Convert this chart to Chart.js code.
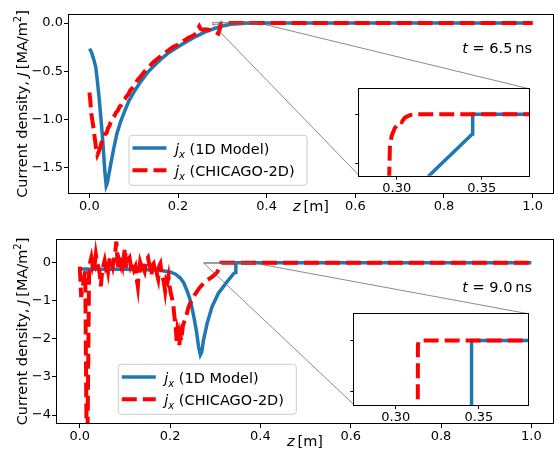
<!DOCTYPE html>
<html>
<head>
<meta charset="utf-8">
<script src="https://cdn.jsdelivr.net/npm/chart.js@4.4.1/dist/chart.umd.min.js"></script>
<style>
  body { margin: 0; background: #fff; width: 554px; height: 449px; position: relative; overflow: hidden; }
  canvas { position: absolute; }
</style>
</head>
<body>
<canvas id="mainTop" width="554" height="222" style="left:0;top:0"></canvas>
<canvas id="mainBottom" width="554" height="227" style="left:0;top:222px"></canvas>
<canvas id="insetTop" width="200" height="120" style="left:340px;top:80px"></canvas>
<canvas id="insetBottom" width="200" height="125" style="left:340px;top:305px"></canvas>
<script>
// ---- data (z [m], J [MA/m^2]) ----
const zTicks = [0, 0.2, 0.4, 0.6, 0.8, 1.0];
const topYTicks = [0, -0.5, -1.0, -1.5];
const bottomYTicks = [0, -1, -2, -3, -4];
const insetZTicks = [0.30, 0.35];
const insetYTicks = [0, -0.01];
const seriesNames = ['1D Model', 'CHICAGO-2D'];
const timeLabels = ['6.5', '9.0'];

// t = 6.5 ns
const model65 = [[0,-0.266],[0.003,-0.285],[0.006,-0.32],[0.010,-0.38],[0.0144,-0.46],[0.018,-0.60],[0.022,-0.78],[0.0256,-0.97],[0.029,-1.15],[0.0316,-1.32],[0.035,-1.55],[0.038,-1.69],[0.0406,-1.66],[0.044,-1.57],[0.048,-1.47],[0.055,-1.30],[0.062,-1.15],[0.070,-1.03],[0.080,-0.91],[0.090,-0.80],[0.100,-0.72],[0.114,-0.62],[0.130,-0.52],[0.1445,-0.45],[0.160,-0.38],[0.180,-0.305],[0.200,-0.245],[0.220,-0.19],[0.240,-0.14],[0.260,-0.095],[0.280,-0.06],[0.300,-0.03],[0.319,-0.0124],[0.3445,-0.004],[0.3447,0],[1.0,0]];
const chicago65 = [[0.000,-0.72],[0.002,-0.80],[0.004,-0.93],[0.008,-1.05],[0.012,-1.19],[0.015,-1.30],[0.018,-1.37],[0.021,-1.34],[0.024,-1.30],[0.027,-1.25],[0.030,-1.21],[0.033,-1.19],[0.036,-1.15],[0.039,-1.14],[0.042,-1.09],[0.045,-1.07],[0.048,-1.03],[0.051,-1.01],[0.054,-0.98],[0.057,-0.96],[0.060,-0.93],[0.064,-0.91],[0.068,-0.87],[0.072,-0.85],[0.076,-0.81],[0.080,-0.79],[0.084,-0.76],[0.088,-0.74],[0.092,-0.70],[0.096,-0.68],[0.100,-0.65],[0.104,-0.63],[0.108,-0.595],[0.114,-0.565],[0.120,-0.53],[0.125,-0.50],[0.130,-0.475],[0.136,-0.45],[0.141,-0.42],[0.146,-0.40],[0.152,-0.375],[0.158,-0.355],[0.164,-0.33],[0.170,-0.31],[0.176,-0.29],[0.182,-0.27],[0.188,-0.25],[0.194,-0.235],[0.200,-0.225],[0.206,-0.205],[0.212,-0.185],[0.218,-0.17],[0.224,-0.15],[0.230,-0.14],[0.236,-0.125],[0.241,-0.11],[0.245,-0.06],[0.248,-0.034],[0.251,-0.06],[0.256,-0.07],[0.262,-0.065],[0.269,-0.07],[0.276,-0.08],[0.284,-0.093],[0.291,-0.11],[0.2945,-0.06],[0.2956,-0.0124],[0.2960,-0.0067],[0.2970,-0.0044],[0.2989,-0.0028],[0.3009,-0.0020],[0.3019,-0.0015],[0.3029,-0.0016],[0.3048,-0.0007],[0.3077,-0.0002],[0.3112,0],[1.0,0]];

// t = 9.0 ns
const model90 = [[0,-0.16],[0.05,-0.17],[0.10,-0.17],[0.15,-0.18],[0.18,-0.20],[0.20,-0.24],[0.212,-0.30],[0.2226,-0.40],[0.230,-0.52],[0.237,-0.72],[0.243,-0.92],[0.248,-1.15],[0.253,-1.45],[0.258,-1.77],[0.263,-2.20],[0.267,-2.42],[0.270,-2.35],[0.274,-2.03],[0.282,-1.59],[0.293,-1.15],[0.307,-0.80],[0.326,-0.50],[0.341,-0.28],[0.3454,-0.25],[0.3456,0],[1.0,0]];
const chicago90 = [[0.000,-0.10],[0.003,-0.90],[0.0075,-0.55],[0.012,-0.22],[0.016,-6.0],[0.0205,-0.28],[0.023,0.02],[0.0255,0.14],[0.028,-0.06],[0.030,0.05],[0.033,-0.04],[0.0355,0.22],[0.038,0.02],[0.041,-0.12],[0.044,-0.28],[0.0465,-0.62],[0.049,-0.30],[0.052,-0.08],[0.055,0.06],[0.0575,-0.12],[0.060,-0.05],[0.0625,-0.22],[0.065,0.04],[0.068,0.16],[0.0705,0.02],[0.073,-0.10],[0.0755,0.08],[0.078,0.22],[0.081,0.56],[0.0835,0.05],[0.0855,-0.16],[0.088,0.04],[0.0905,-0.06],[0.093,0.15],[0.0955,-0.02],[0.098,0.22],[0.100,0.38],[0.1025,-0.14],[0.105,-0.02],[0.1075,0.10],[0.110,0.14],[0.1125,-0.06],[0.115,0.04],[0.1175,-0.05],[0.120,-0.18],[0.123,-0.10],[0.1255,-0.38],[0.1285,-0.62],[0.131,-0.20],[0.1335,0.02],[0.136,-0.08],[0.1385,0.03],[0.141,-0.14],[0.1435,-0.22],[0.146,-0.02],[0.1485,0.10],[0.151,0.14],[0.1535,-0.02],[0.156,-0.12],[0.1585,-0.34],[0.161,-0.06],[0.1635,-0.02],[0.166,-0.18],[0.1685,-0.10],[0.171,-0.30],[0.1735,-0.42],[0.176,-0.08],[0.1785,-0.02],[0.181,-0.26],[0.1835,-0.36],[0.186,-0.50],[0.189,-0.74],[0.1915,-0.46],[0.194,-0.52],[0.1965,-0.36],[0.199,-0.62],[0.2015,-0.80],[0.204,-0.92],[0.2065,-1.05],[0.2085,-1.28],[0.2105,-1.52],[0.2125,-1.70],[0.2145,-2.05],[0.2165,-1.72],[0.2185,-1.80],[0.2205,-2.16],[0.2225,-1.92],[0.2245,-2.05],[0.2265,-1.84],[0.2285,-1.64],[0.2305,-1.58],[0.2335,-1.46],[0.2365,-1.36],[0.2405,-1.18],[0.2445,-1.06],[0.249,-0.97],[0.2535,-0.86],[0.258,-0.78],[0.265,-0.66],[0.274,-0.54],[0.283,-0.45],[0.293,-0.37],[0.300,-0.30],[0.3045,-0.24],[0.3131,-0.03],[0.3133,-0.0008],[0.314,-0.0001],[0.315,0],[1.0,0]];

// ---- style ----
const BLUE = '#1f77b4';
const RED = '#ff0000';
const RM = '14.5px "DejaVu Sans"';
const IT = 'italic 14.5px "DejaVu Sans"';
const SM = '10px "DejaVu Sans"';
const ITS = 'italic 10px "DejaVu Sans"';

const fmt = d => v => v.toFixed(d).replace('-', '\u2212');
const pts = arr => arr.map(p => ({ x: p[0], y: p[1] }));

function datasets(model, chicago) {
  const common = { pointRadius: 0, tension: 0, fill: false, clip: 0 };
  return [
    { ...common, data: pts(chicago), borderColor: RED, borderWidth: 4, borderDash: [15, 6] },
    { ...common, data: pts(model), borderColor: BLUE, borderWidth: 3.5 }
  ];
}

function scale(min, max, tickVals, label, fitKey, fitVal, tickLen) {
  return {
    type: 'linear', min, max,
    afterBuildTicks: s => { s.ticks = tickVals.map(v => ({ value: v })); },
    afterFit: s => { s[fitKey] = fitVal; },
    ticks: { callback: label, font: { family: 'DejaVu Sans', size: 13 }, color: '#000', padding: 1, maxRotation: 0, autoSkip: false },
    grid: { drawOnChartArea: false, drawTicks: true, tickLength: tickLen, color: '#000', lineWidth: 1 },
    border: { display: false }
  };
}

// draw text pieces with mixed fonts on one baseline
function runs(ctx, parts, x, y, align) {
  let w = 0;
  parts.forEach(p => { ctx.font = p[1]; w += ctx.measureText(p[0]).width; });
  let cx = align === 'right' ? x - w : align === 'center' ? x - w / 2 : x;
  parts.forEach(p => {
    ctx.font = p[1];
    ctx.fillText(p[0], cx, y + (p[2] || 0));
    cx += ctx.measureText(p[0]).width;
  });
}

function frame(ctx, a) {
  ctx.strokeStyle = '#000';
  ctx.lineWidth = 1;
  ctx.strokeRect(Math.round(a.left) - 0.5, Math.round(a.top) - 0.5, Math.round(a.right - a.left) + 1, Math.round(a.bottom - a.top) + 1);
}

function drawLegend(ctx, bx, by) {
  const w = 178, h = 50, r = 3;
  ctx.beginPath();
  ctx.moveTo(bx + r, by);
  ctx.arcTo(bx + w, by, bx + w, by + h, r);
  ctx.arcTo(bx + w, by + h, bx, by + h, r);
  ctx.arcTo(bx, by + h, bx, by, r);
  ctx.arcTo(bx, by, bx + w, by, r);
  ctx.closePath();
  ctx.fillStyle = 'rgba(255,255,255,0.8)';
  ctx.fill();
  ctx.strokeStyle = '#cccccc';
  ctx.lineWidth = 1;
  ctx.stroke();
  const rows = [{ c: BLUE, lw: 3.5, dash: [] }, { c: RED, lw: 4, dash: [15, 6] }];
  rows.forEach((row, i) => {
    const ly = by + 12.7 + i * 22.3;
    ctx.beginPath();
    ctx.setLineDash(row.dash);
    ctx.strokeStyle = row.c;
    ctx.lineWidth = row.lw;
    ctx.moveTo(bx + 3.5, ly);
    ctx.lineTo(bx + 37.5, ly);
    ctx.stroke();
    ctx.setLineDash([]);
    ctx.fillStyle = '#000';
    runs(ctx, [['j', IT], ['x', ITS, 3.5], [' (' + seriesNames[i] + ')', RM]], bx + 46, ly + 6, 'left');
  });
}

function decoPlugin(cfg) {
  return {
    id: 'deco',
    afterDatasetsDraw(chart) {
      const ctx = chart.ctx, a = chart.chartArea;
      const xs = chart.scales.x, ys = chart.scales.y;
      const ins = cfg.inset, ia = ins.chartArea;
      const ox = ins.canvas.offsetLeft - chart.canvas.offsetLeft;
      const oy = ins.canvas.offsetTop - chart.canvas.offsetTop;
      ctx.save();
      // zoom marker and connectors
      const rx0 = xs.getPixelForValue(ins.scales.x.min), rx1 = xs.getPixelForValue(ins.scales.x.max);
      const ry0 = ys.getPixelForValue(ins.scales.y.max), ry1 = ys.getPixelForValue(ins.scales.y.min);
      ctx.strokeStyle = 'rgba(110,110,110,0.8)';
      ctx.lineWidth = 1;
      ctx.strokeRect(rx0, ry0, rx1 - rx0, ry1 - ry0);
      ctx.beginPath();
      ctx.moveTo(rx1, ry0); ctx.lineTo(ox + ia.right, oy + ia.top);
      ctx.moveTo(rx0, ry1); ctx.lineTo(ox + ia.left, oy + ia.bottom);
      ctx.stroke();
      frame(ctx, a);
      drawLegend(ctx, cfg.legendX, cfg.legendY);
      ctx.fillStyle = '#000';
      ctx.textBaseline = 'alphabetic';
      runs(ctx, [['t', IT], [' = ' + cfg.time + '\u2009ns', RM]], a.right - 21, cfg.tY, 'right');
      runs(ctx, [['z', IT], ['\u2009[m]', RM]], (a.left + a.right) / 2, cfg.zY, 'center');
      ctx.translate(26.5, (a.top + a.bottom) / 2);
      ctx.rotate(-Math.PI / 2);
      runs(ctx, [['Current density, ', RM], ['J', IT], ['\u2009[MA/m', RM], ['2', SM, -5.5], [']', RM]], 0, 0, 'center');
      ctx.restore();
    }
  };
}

const insetDeco = {
  id: 'insetDeco',
  beforeDraw(chart) {
    const a = chart.chartArea, ctx = chart.ctx;
    ctx.save();
    ctx.fillStyle = '#fff';
    ctx.fillRect(a.left, a.top, a.right - a.left, a.bottom - a.top);
    ctx.restore();
  },
  afterDraw(chart) {
    chart.ctx.save();
    frame(chart.ctx, chart.chartArea);
    chart.ctx.restore();
  }
};

const base = {
  responsive: false, animation: false, devicePixelRatio: 1, events: [],
  plugins: { legend: { display: false }, tooltip: { enabled: false } }
};

function makeInset(id, model, chicago, xr, yr, pad, yWidth, xHeight) {
  return new Chart(document.getElementById(id), {
    type: 'line',
    data: { datasets: datasets(model, chicago) },
    options: {
      ...base,
      layout: { padding: pad },
      scales: {
        x: scale(xr[0], xr[1], insetZTicks, fmt(2), 'height', xHeight, 4),
        y: scale(yr[0], yr[1], insetYTicks, () => '', 'width', yWidth, 4)
      }
    },
    plugins: [insetDeco]
  });
}

function makeMain(id, model, chicago, xr, yr, yTicks, yDigits, pad, yWidth, xHeight, cfg) {
  return new Chart(document.getElementById(id), {
    type: 'line',
    data: { datasets: datasets(model, chicago) },
    options: {
      ...base,
      layout: { padding: pad },
      scales: {
        x: scale(xr[0], xr[1], zTicks, fmt(1), 'height', xHeight, 5),
        y: scale(yr[0], yr[1], yTicks, fmt(yDigits), 'width', yWidth, 5)
      }
    },
    plugins: [decoPlugin(cfg)]
  });
}

const insetTop = makeInset('insetTop', model65, chicago65, [0.278, 0.378], [-0.0124, 0.0051],
  { top: 6, right: 10.7, left: 0, bottom: 0 }, 19.3, 24.3);
const insetBottom = makeInset('insetBottom', model90, chicago90, [0.275, 0.38], [-0.0126, 0.0052],
  { top: 8.3, right: 11.3, left: 0, bottom: 0 }, 14.3, 25);

makeMain('mainTop', model65, chicago65, [-0.046, 1.046], [-1.765, 0.084], topYTicks, 1,
  { top: 15, right: 1, left: 0, bottom: 0 }, 69, 29,
  { inset: insetTop, time: timeLabels[0], legendX: 129, legendY: 135.3, tY: 52.7, zY: 211.4 });
makeMain('mainBottom', model90, chicago90, [-0.0505, 1.048], [-4.21, 0.6], bottomYTicks, 0,
  { top: 18, right: 1, left: 0, bottom: 0 }, 57, 26,
  { inset: insetBottom, time: timeLabels[1], legendX: 118.3, legendY: 142.3, tY: 69.5, zY: 223.8 });
</script>
</body>
</html>
